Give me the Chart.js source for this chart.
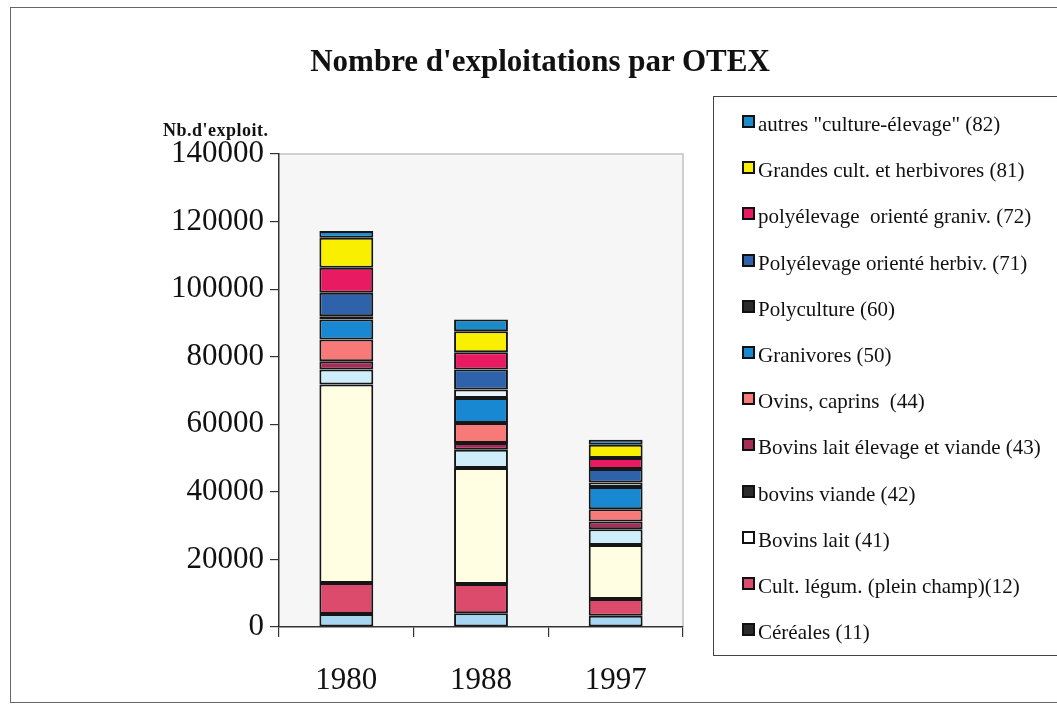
<!DOCTYPE html>
<html>
<head>
<meta charset="utf-8">
<script src="https://cdn.jsdelivr.net/npm/chart.js@4"></script>
<style>
    body { margin: 0; background: #fff; font-family: "Liberation Serif", "DejaVu Serif", serif; color: #111; }
    #wrap { position: relative; width: 1057px; height: 706px; overflow: hidden; }
    #frame { position: absolute; left: 10px; top: 7px; width: 1070px; height: 694px; border: 1.5px solid #666; }
    #chart { position: absolute; left: 0; top: 0; }
    #title { position: absolute; left: 0; width: 1080px; top: 43px; text-align: center; font-weight: bold; font-size: 31px; }
    #ylabel { position: absolute; left: 163px; top: 120px; font-weight: bold; font-size: 18px; letter-spacing: 0.5px; }
    #legend { position: absolute; left: 713px; top: 96px; width: 360px; height: 558px; border: 1.5px solid #444; }
    .item { position: absolute; left: 28px; font-size: 21px; white-space: pre; line-height: 24px; }
    .box { display: inline-block; width: 9px; height: 9px; border: 2px solid #111; margin-right: 3px; vertical-align: 3px; }
</style>
</head>
<body>
<div id="wrap">
    <div id="frame"></div>
    <canvas id="chart" width="1057" height="706"></canvas>
    <div id="title">Nombre d'exploitations par OTEX</div>
    <div id="ylabel">Nb.d'exploit.</div>
    <div id="legend"></div>
</div>
<script>
// ----------------------------------------------------
// Data
// ----------------------------------------------------
const years = ['1980', '1988', '1997'];
const yTicks = [0, 20000, 40000, 60000, 80000, 100000, 120000, 140000];

const cereales         = [3850, 4050, 3350];
const cultLegum        = [9200, 8700, 4950];
const bovinsLait       = [58700, 34300, 16000];
const bovinsViande     = [4450, 5430, 4650];
const bovinsLaitViande = [2460, 1990, 2250];
const ovinsCaprins     = [6430, 5930, 3680];
const granivores       = [5930, 7400, 6530];
const polyculture      = [980, 2460, 1360];
const polyHerbiv       = [6940, 5930, 3970];
const polyGraniv       = [7400, 5130, 3260];
const grandesCult      = [8900, 6230, 3950];
const autres           = [1960, 3470, 1480];

// bottom of the stack first
const series = [
    { label: 'Céréales (11)', data: cereales, color: '#a6d6f2', swatch: '#2a2a2a' },
    { label: 'Cult. légum. (plein champ)(12)', data: cultLegum, color: '#dc4a6c' },
    { label: 'Bovins lait (41)', data: bovinsLait, color: '#fffde2', swatch: '#ffffff' },
    { label: 'bovins viande (42)', data: bovinsViande, color: '#cdeefa', swatch: '#2a2a2a' },
    { label: 'Bovins lait élevage et viande (43)', data: bovinsLaitViande, color: '#a82c58' },
    { label: 'Ovins, caprins  (44)', data: ovinsCaprins, color: '#f87a78' },
    { label: 'Granivores (50)', data: granivores, color: '#1888d2' },
    { label: 'Polyculture (60)', data: polyculture, color: '#e8f4fa', swatch: '#2a2a2a' },
    { label: 'Polyélevage orienté herbiv. (71)', data: polyHerbiv, color: '#2e62aa' },
    { label: 'polyélevage  orienté graniv. (72)', data: polyGraniv, color: '#e81a62' },
    { label: 'Grandes cult. et herbivores (81)', data: grandesCult, color: '#f8f000' },
    { label: 'autres "culture-élevage" (82)', data: autres, color: '#1a8ccc' }
];

// ----------------------------------------------------
// Legend (top item = last series)
// ----------------------------------------------------
const legend = document.getElementById('legend');
series.slice().reverse().forEach((s, i) => {
    const div = document.createElement('div');
    div.className = 'item';
    div.style.top = Math.round(15 + i * 46.2) + 'px';
    const box = document.createElement('span');
    box.className = 'box';
    box.style.background = s.swatch || s.color;
    div.appendChild(box);
    div.appendChild(document.createTextNode(s.label));
    legend.appendChild(div);
});

// ----------------------------------------------------
// Chart
// ----------------------------------------------------
const plotBg = {
    id: 'plotBg',
    beforeDraw(chart) {
        const { ctx, chartArea: a } = chart;
        ctx.save();
        ctx.fillStyle = '#f6f6f6';
        ctx.fillRect(a.left, a.top, a.right - a.left, a.bottom - a.top);
        ctx.strokeStyle = '#c4c4c4';
        ctx.lineWidth = 1.5;
        ctx.beginPath();
        ctx.moveTo(a.left, a.top);
        ctx.lineTo(a.right, a.top);
        ctx.lineTo(a.right, a.bottom);
        ctx.stroke();
        ctx.restore();
    }
};

const serif = '"Liberation Serif", "DejaVu Serif", serif';

new Chart(document.getElementById('chart'), {
    type: 'bar',
    data: {
        labels: years,
        datasets: series.map(s => ({
            label: s.label,
            data: s.data,
            backgroundColor: s.color,
            borderColor: '#161616',
            borderWidth: 2,
            borderSkipped: false,
            barPercentage: 0.4,
            categoryPercentage: 1
        }))
    },
    options: {
        responsive: false,
        animation: false,
        layout: { padding: { left: 150, top: 154, right: 374, bottom: 0 } },
        plugins: { legend: { display: false }, tooltip: { enabled: false } },
        scales: {
            x: {
                stacked: true,
                grid: { offset: true, drawOnChartArea: false, tickLength: 10, color: '#333', lineWidth: 1.2 },
                border: { color: '#333', width: 1.5 },
                ticks: { font: { family: serif, size: 31 }, color: '#111', padding: 25 },
                afterFit: scale => { scale.height = 79; }
            },
            y: {
                stacked: true,
                min: 0,
                max: 140000,
                afterBuildTicks: scale => { scale.ticks = yTicks.map(v => ({ value: v })); },
                grid: { drawOnChartArea: false, tickLength: 9, color: '#333', lineWidth: 1.2 },
                border: { color: '#333', width: 1.5 },
                ticks: {
                    font: { family: serif, size: 31 },
                    color: '#111',
                    padding: 6,
                    callback: v => String(v)
                },
                afterFit: scale => { scale.width = 129; }
            }
        }
    },
    plugins: [plotBg]
});
</script>
</body>
</html>
